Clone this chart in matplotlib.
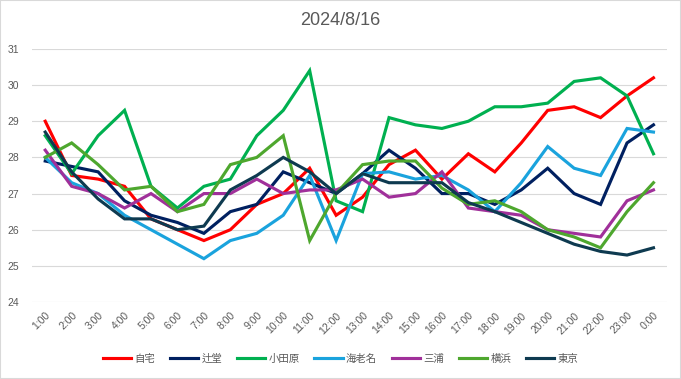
import matplotlib
matplotlib.use('Agg')
import matplotlib.pyplot as plt
from matplotlib.patches import Rectangle

plt.rcParams['font.family'] = ['Liberation Sans', 'Noto Sans CJK JP']

hours = ['1:00', '2:00', '3:00', '4:00', '5:00', '6:00', '7:00', '8:00', '9:00', '10:00', '11:00', '12:00',
         '13:00', '14:00', '15:00', '16:00', '17:00', '18:00', '19:00', '20:00', '21:00', '22:00', '23:00', '0:00']

jitaku = [29.0, 27.5, 27.4, 27.2, 26.3, 26.0, 25.7, 26.0, 26.7, 27.0, 27.7, 26.4,
          26.9, 27.8, 28.2, 27.4, 28.1, 27.6, 28.4, 29.3, 29.4, 29.1, 29.7, 30.2]
tsujido = [27.9, 27.75, 27.6, 26.8, 26.4, 26.2, 25.9, 26.5, 26.7, 27.6, 27.3, 27.0,
           27.55, 28.2, 27.7, 27.0, 27.0, 26.7, 27.1, 27.7, 27.0, 26.7, 28.4, 28.9]
odawara = [28.6, 27.55, 28.6, 29.3, 27.2, 26.6, 27.2, 27.4, 28.6, 29.3, 30.4, 26.8,
           26.5, 29.1, 28.9, 28.8, 29.0, 29.4, 29.4, 29.5, 30.1, 30.2, 29.7, 28.1]
ebina = [28.0, 27.3, 27.0, 26.4, 26.0, 25.6, 25.2, 25.7, 25.9, 26.4, 27.5, 25.7,
         27.55, 27.6, 27.4, 27.5, 27.1, 26.5, 27.3, 28.3, 27.7, 27.5, 28.8, 28.7]
miura = [28.2, 27.2, 27.0, 26.6, 27.0, 26.5, 27.0, 27.0, 27.4, 27.0, 27.1, 27.1,
         27.4, 26.9, 27.0, 27.6, 26.6, 26.5, 26.4, 26.0, 25.9, 25.8, 26.8, 27.1]
yokohama = [28.0, 28.4, 27.8, 27.1, 27.2, 26.5, 26.7, 27.8, 28.0, 28.6, 25.7, 27.0,
            27.8, 27.9, 27.9, 27.15, 26.7, 26.8, 26.5, 26.0, 25.8, 25.5, 26.5, 27.3]
tokyo = [28.7, 27.6, 26.85, 26.3, 26.3, 26.0, 26.1, 27.1, 27.5, 28.0, 27.6, 27.0,
         27.55, 27.3, 27.3, 27.3, 26.75, 26.5, 26.2, 25.9, 25.6, 25.4, 25.3, 25.5]

series = [('自宅', jitaku, '#FF0000'),
          ('辻堂', tsujido, '#002060'),
          ('小田原', odawara, '#00B050'),
          ('海老名', ebina, '#1AA3DD'),
          ('三浦', miura, '#A0309A'),
          ('横浜', yokohama, '#4EA72E'),
          ('東京', tokyo, '#0E3A50')]

fig = plt.figure(figsize=(6.81, 3.79), dpi=100)
ax = fig.add_axes([0.047, 0.203, 0.932, 0.668])

x = list(range(len(hours)))
for name, vals, col in series:
    ax.plot(x, vals, color=col, lw=2.25, label=name, solid_joinstyle='miter')

ax.set_xlim(-0.5, len(hours) - 0.5)
ax.set_ylim(24, 31)
ax.set_yticks(range(24, 32))
ax.set_xticks(x)
ax.set_xticklabels(hours, rotation=45, ha='right', rotation_mode='anchor')
ax.tick_params(axis='both', length=0, labelsize=7.5, labelcolor='#595959')
ax.tick_params(axis='y', pad=9)
ax.tick_params(axis='x', pad=6)
ax.grid(axis='y', color='#D9D9D9', lw=0.8)
ax.set_axisbelow(True)
for s in ax.spines.values():
    s.set_visible(False)

fig.text(0.5, 0.945, '2024/8/16', ha='center', va='center', fontsize=13, color='#595959')

fig.legend(loc='center', bbox_to_anchor=(0.5, 0.053), ncol=7, frameon=False,
           fontsize=7.5, labelcolor='#595959', handlelength=2.7, handletextpad=0.3,
           columnspacing=1.45)

fig.patches.append(Rectangle((0, 0), 1, 1, transform=fig.transFigure, fill=False,
                             edgecolor='#D9D9D9', lw=1.5))

plt.savefig('out.png', dpi=100)
